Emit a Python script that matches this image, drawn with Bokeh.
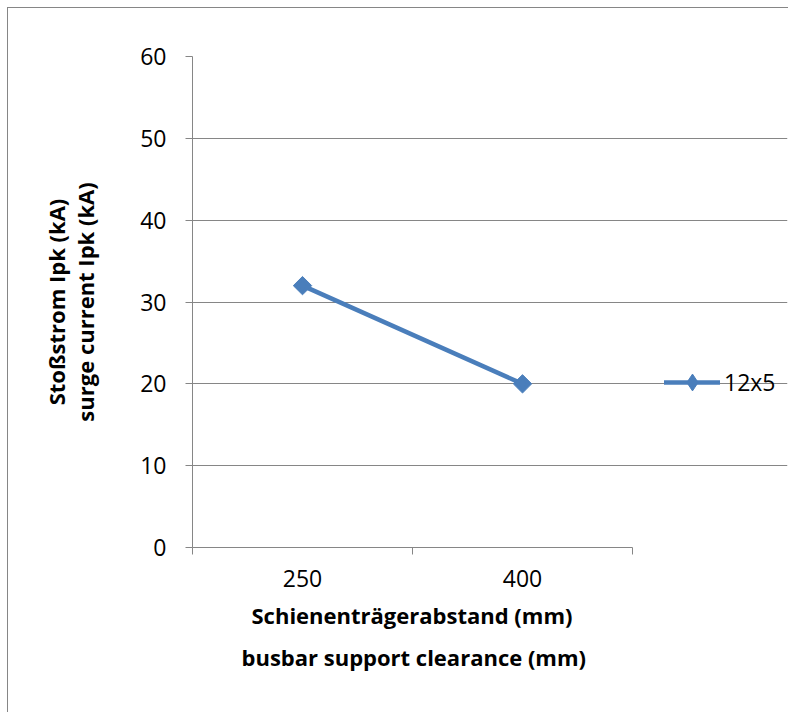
import math
from bokeh.plotting import figure
from bokeh.models import Range1d, FixedTicker, Legend, LegendItem, Title
from bokeh.embed import file_html
from bokeh.resources import INLINE

categories = ["250", "400"]
surge_current = [32, 20]
series_name = "12x5"
y_ticks = [0, 10, 20, 30, 40, 50, 60]

x_title_lines = ["Schienenträgerabstand (mm)", "busbar support clearance (mm)"]
y_title = "Stoßstrom Ipk (kA)\nsurge current Ipk (kA)"

GRAY = "#868686"
BLUE = "#4a7ebb"
FONT = "Open Sans"

# Excel-style category axis: each category occupies one unit slot, drawn at its centre
n = len(categories)
cat_pos = [i + 0.5 for i in range(n)]

# layout (pixels): plot area 440 wide for the categories, frame extended to hold the legend
W, H = 781, 705
LEFT, TOP, BOTTOM, RIGHT = 184, 48, 166, 2
SLOT_AREA = 440
frame_w = W - LEFT - RIGHT
x_end = n * frame_w / SLOT_AREA

p = figure(width=W, height=H, output_backend="svg", toolbar_location=None,
           x_range=Range1d(0, x_end), y_range=Range1d(y_ticks[0], y_ticks[-1]),
           min_border_left=LEFT, min_border_right=RIGHT,
           min_border_top=TOP, min_border_bottom=BOTTOM)
p.styles = {"margin-left": "7px", "margin-top": "7px",
            "border-left": "1px solid " + GRAY, "border-top": "1px solid " + GRAY}
p.outline_line_color = None
p.background_fill_color = "white"
p.border_fill_color = "white"

xaxis = p.xaxis[0]
xaxis.bounds = (0, n)
xaxis.ticker = FixedTicker(ticks=cat_pos, minor_ticks=list(range(n + 1)))
xaxis.major_label_overrides = {pos: c for pos, c in zip(cat_pos, categories)}
xaxis.major_tick_line_color = None
xaxis.major_tick_out = 0
xaxis.major_tick_in = 0
xaxis.minor_tick_line_color = GRAY
xaxis.minor_tick_out = 7
xaxis.minor_tick_in = 0
xaxis.axis_line_color = GRAY
xaxis.major_label_text_font = FONT
xaxis.major_label_text_font_size = "23px"
xaxis.major_label_text_color = "black"
xaxis.major_label_standoff = 15

# x axis title: two centred lines, centred under the category plot area (not the whole frame)
approx_line_widths = [322, 342]  # rendered width of each title line in px
for line, wpx, so in zip(x_title_lines, approx_line_widths, [20, 0]):
    t = Title(text=line, align="left", vertical_align="top",
              offset=SLOT_AREA / 2 - wpx / 2, standoff=so,
              text_font=FONT, text_font_size="22px", text_font_style="bold",
              text_color="black")
    p.add_layout(t, "below")

yaxis = p.yaxis[0]
yaxis.ticker = FixedTicker(ticks=y_ticks, minor_ticks=[])
yaxis.axis_line_color = GRAY
yaxis.major_tick_line_color = GRAY
yaxis.major_tick_out = 7
yaxis.major_tick_in = 0
yaxis.minor_tick_line_color = None
yaxis.major_label_text_font = FONT
yaxis.major_label_text_font_size = "23px"
yaxis.major_label_text_color = "black"
yaxis.major_label_standoff = 19
yaxis.axis_label = y_title
yaxis.axis_label_text_font = FONT
yaxis.axis_label_text_font_style = "bold"
yaxis.axis_label_text_font_size = "22px"
yaxis.axis_label_text_color = "black"
yaxis.axis_label_text_line_height = 0.97
yaxis.axis_label_standoff = 37

p.xgrid.grid_line_color = None
p.ygrid.grid_line_color = GRAY
p.ygrid.grid_line_width = 1
p.ygrid.bounds = (0, n)

line_r = p.line(cat_pos, surge_current, line_color=BLUE, line_width=4.5, line_cap="round")
p.scatter(cat_pos, surge_current, marker="square", angle=math.pi / 4, size=13,
          fill_color=BLUE, line_color=BLUE)
# legend symbol (legend glyphs are never rotated, so Bokeh's diamond is used there;
# drawn small at the data points it stays hidden inside the rotated squares)
legend_marker = p.scatter(cat_pos, surge_current, marker="diamond", size=11,
                          fill_color=BLUE, line_color=BLUE)

lg = Legend(items=[LegendItem(label=series_name, renderers=[line_r, legend_marker])],
            location=(472, 144))
lg.border_line_color = None
lg.background_fill_alpha = 0
lg.padding = 0
lg.margin = 0
lg.spacing = 0
lg.glyph_width = 56
lg.glyph_height = 42
lg.label_standoff = 4
lg.label_text_font = FONT
lg.label_text_font_size = "23px"
lg.label_text_color = "black"
p.add_layout(lg, "center")

open("out.html", "w").write(file_html(p, INLINE))
